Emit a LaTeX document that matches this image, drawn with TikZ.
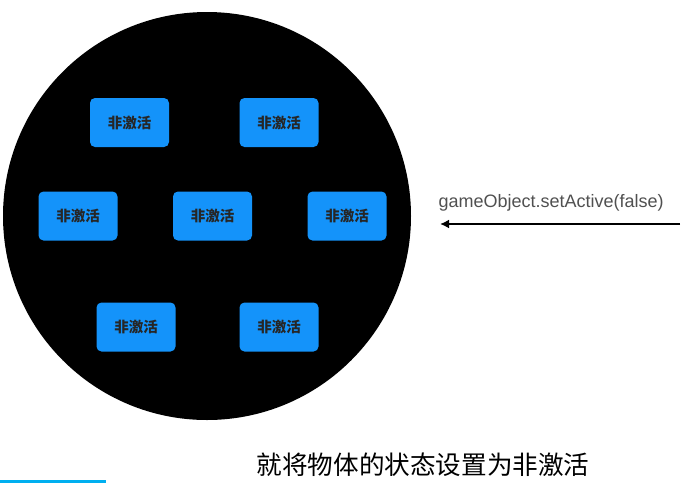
\documentclass[tikz,border=0pt]{standalone}
\usepackage{fontspec}
\setmainfont{Liberation Sans}
\newfontfamily\cjk{Noto Sans CJK SC}
\usetikzlibrary{arrows.meta}
\definecolor{boxblue}{RGB}{20,147,250}
\definecolor{calltext}{RGB}{80,80,80}
\definecolor{barcyan}{RGB}{0,175,240}

\begin{document}
\begin{tikzpicture}[x=1pt,y=-1pt,
  objbox/.style={fill=boxblue,rounded corners=5pt,minimum width=79pt,minimum height=49pt,inner sep=0pt,text=black!85,font=\cjk\bfseries\fontsize{14.5}{14.5}\selectfont}]
\useasboundingbox (0,0) rectangle (691,483);
\node[circle,fill=black,minimum size=408pt,inner sep=0pt] (disc) at (207,216) {};
\foreach \n/\x/\y in {1/129.5/122.5,2/279/122.5,3/78/216,4/212.5/216,5/347/216,6/136/327,7/279/327}
  \node[objbox] (obj\n) at (\x,\y) {非激活};
% call on the right
\node[anchor=west,text=calltext,font=\fontsize{18}{18}\selectfont] (call) at (435,203) {gameObject.setActive(false)};
\coordinate (callfrom) at (680,224);
\coordinate (callto) at (440,224);
\draw[line width=2.3pt,-{Latex[length=9pt,width=9pt]}] (callfrom) -- (callto);
\node[font=\cjk\fontsize{25.6}{25.6}\selectfont] (caption) at (423,465) {就将物体的状态设置为非激活};
\fill[barcyan] (0,480) rectangle (106,483);
\end{tikzpicture}
\end{document}
